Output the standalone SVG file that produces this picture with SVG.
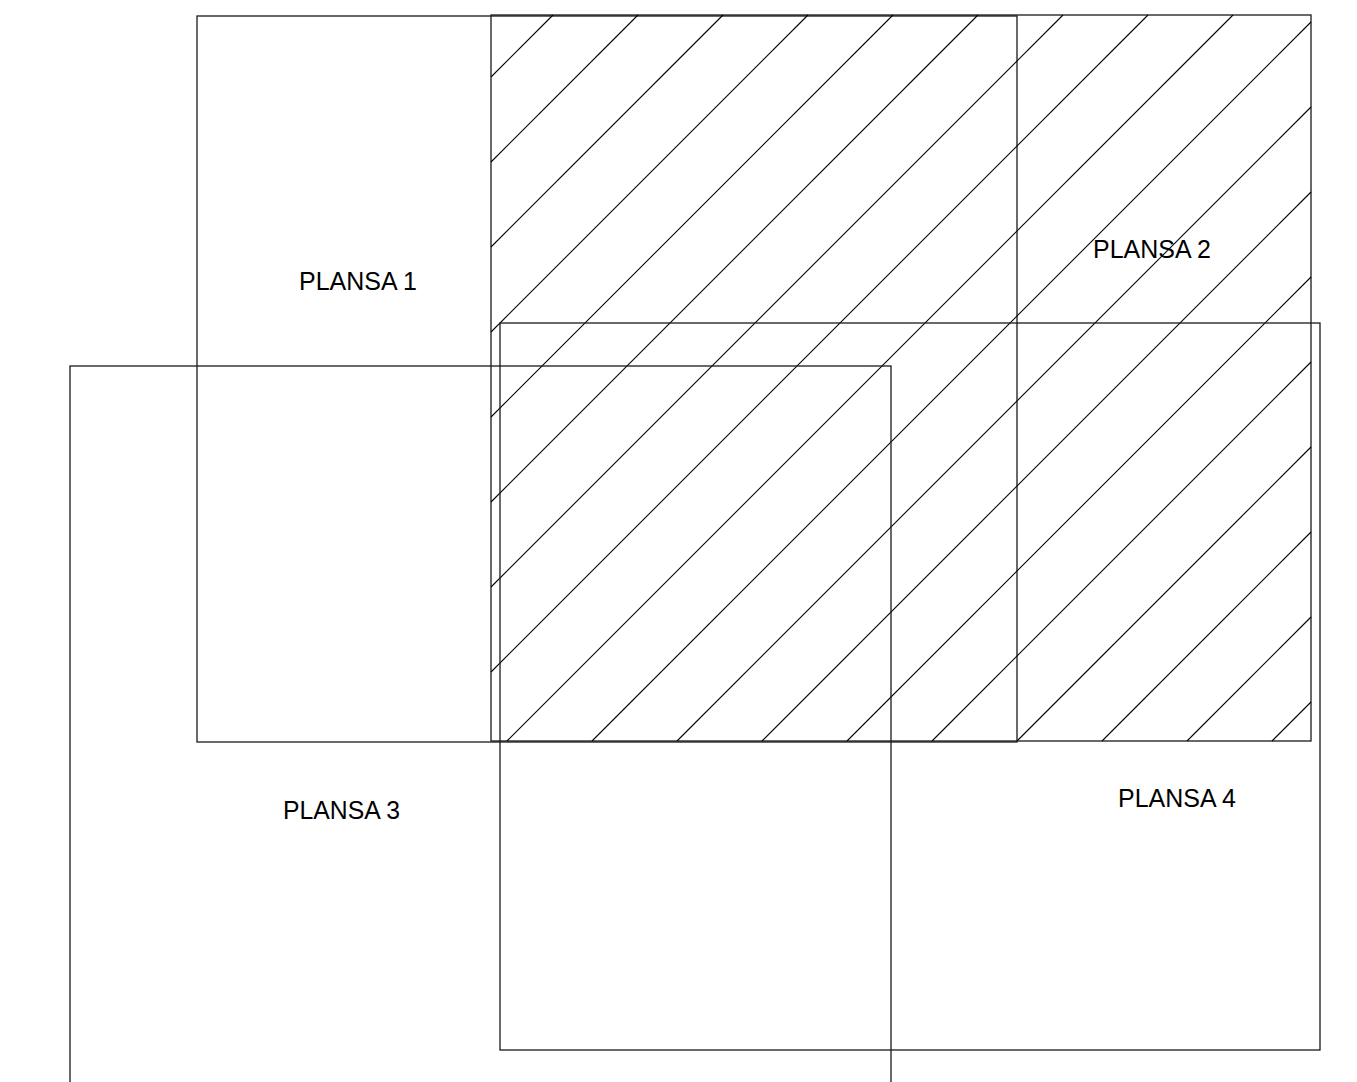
<svg xmlns="http://www.w3.org/2000/svg" width="1357" height="1082" viewBox="0 0 1357 1082">
<style>
.r{fill:none;stroke:#1a1a1a;stroke-width:1.3}
.h{stroke:#000;stroke-width:1.1;fill:none}
.t{font-family:"Liberation Sans",Arial,sans-serif;font-size:26px;fill:#000}
</style>
<rect x="0" y="0" width="1357" height="1082" fill="#fff"/>
<g id="plansa1">
<rect class="r" x="197" y="16" width="820" height="726"/>
<text class="t" x="299" y="290" textLength="118" lengthAdjust="spacingAndGlyphs">PLANSA 1</text>
</g>
<g id="plansa2">
<rect class="r" x="491" y="15" width="820" height="726"/>
<g class="h">
<line x1="553" y1="15" x2="491" y2="77"/>
<line x1="638" y1="15" x2="491" y2="162"/>
<line x1="723" y1="15" x2="491" y2="247"/>
<line x1="808" y1="15" x2="491" y2="332"/>
<line x1="893" y1="15" x2="491" y2="417"/>
<line x1="978" y1="15" x2="491" y2="502"/>
<line x1="1063" y1="15" x2="491" y2="587"/>
<line x1="1148" y1="15" x2="491" y2="672"/>
<line x1="1233" y1="15" x2="507" y2="741"/>
<line x1="1311" y1="22" x2="592" y2="741"/>
<line x1="1311" y1="107" x2="677" y2="741"/>
<line x1="1311" y1="192" x2="762" y2="741"/>
<line x1="1311" y1="277" x2="847" y2="741"/>
<line x1="1311" y1="362" x2="932" y2="741"/>
<line x1="1311" y1="447" x2="1017" y2="741"/>
<line x1="1311" y1="532" x2="1102" y2="741"/>
<line x1="1311" y1="617" x2="1187" y2="741"/>
<line x1="1311" y1="702" x2="1272" y2="741"/>
</g>
<text class="t" x="1093" y="258" textLength="118" lengthAdjust="spacingAndGlyphs">PLANSA 2</text>
</g>
<g id="plansa3">
<rect class="r" x="70" y="366" width="821" height="760"/>
<text class="t" x="283" y="819" textLength="117" lengthAdjust="spacingAndGlyphs">PLANSA 3</text>
</g>
<g id="plansa4">
<rect class="r" x="500" y="323" width="820" height="727"/>
<text class="t" x="1118" y="807" textLength="118" lengthAdjust="spacingAndGlyphs">PLANSA 4</text>
</g>
</svg>
